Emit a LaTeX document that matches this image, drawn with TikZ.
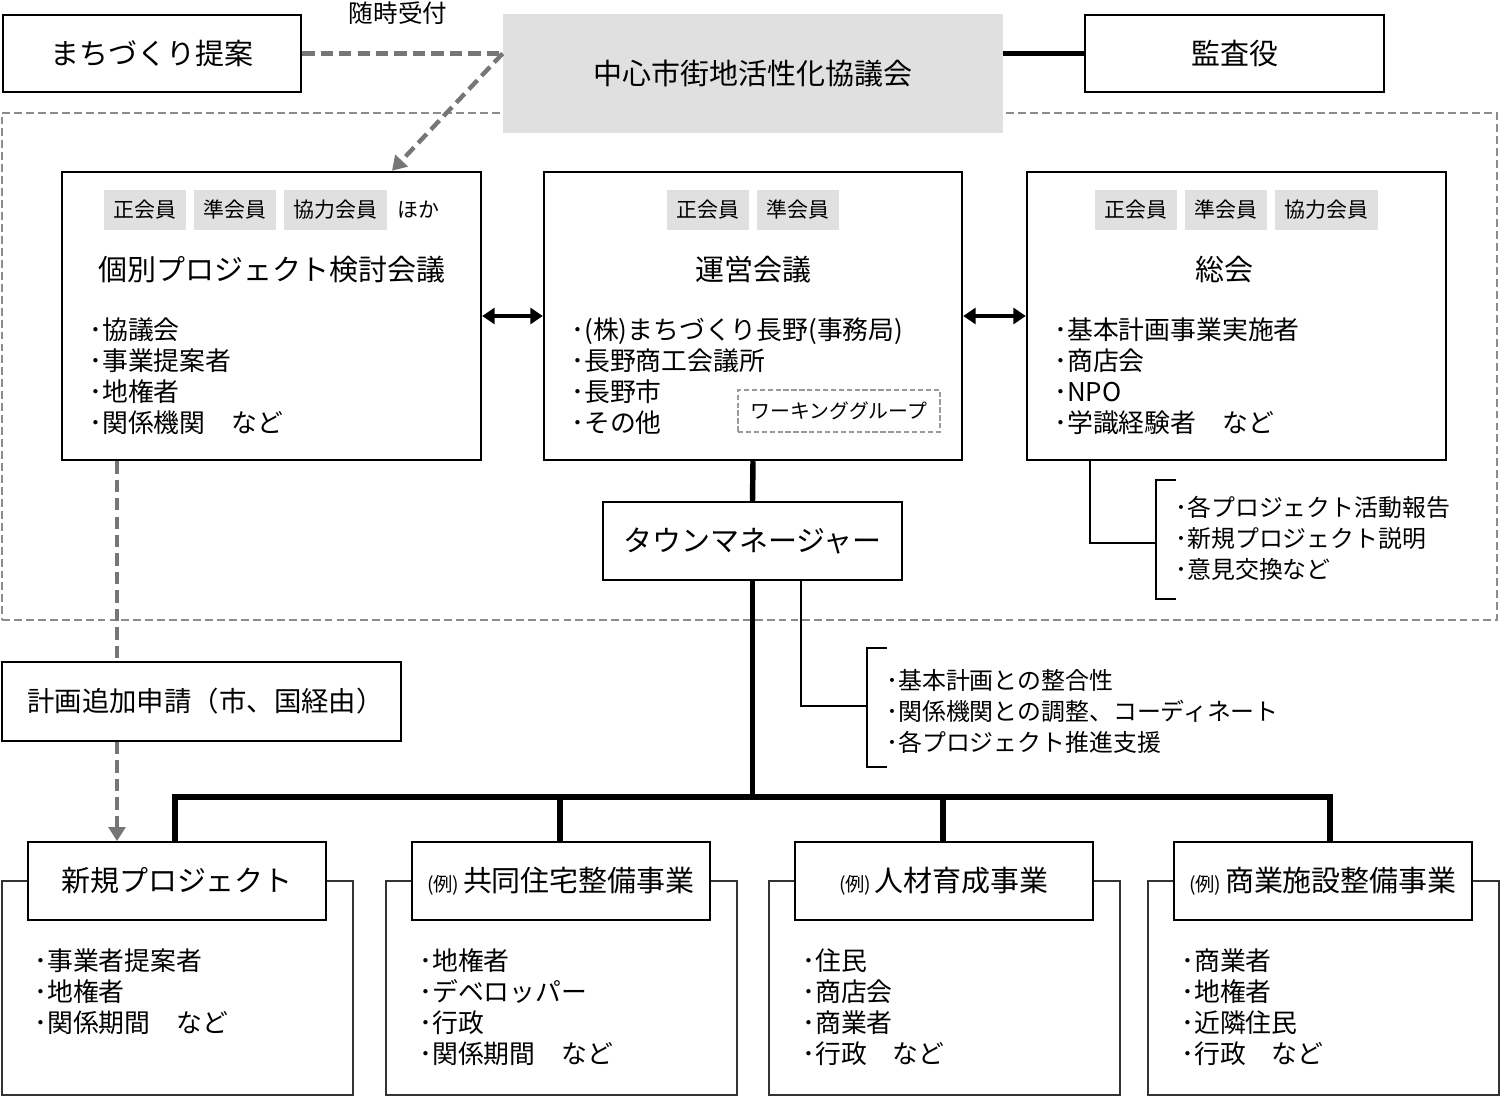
\documentclass[tikz,border=0pt]{standalone}
\usepackage{fontspec}
\setmainfont{Noto Sans CJK JP}
\usetikzlibrary{arrows.meta,fit}
\definecolor{tagfill}{HTML}{E0E0E0}
\definecolor{dgray}{HTML}{767676}
\definecolor{rgray}{HTML}{8C8C8C}
\definecolor{wgray}{HTML}{9A9A9A}
\newcommand{\rei}{{\fontsize{11pt}{12pt}\selectfont(例)}\hspace{2pt}}
\begin{document}
\begin{tikzpicture}[x=0.02cm,y=-0.02cm,
  box/.style={draw=black, line width=1.4pt, fill=white, inner sep=0pt},
  sbox/.style={draw=black, line width=1pt, fill=white, inner sep=0pt},
  obox/.style={draw=black!80, line width=0.6pt, inner sep=0pt},
  tag/.style={fill=tagfill, inner xsep=5.6pt, inner ysep=0pt, minimum height=0.8cm, font=\fontsize{11.9pt}{14pt}\selectfont},
  ttl/.style={font=\fontsize{16.5pt}{20pt}\selectfont, inner sep=0pt},
  lst/.style={anchor=north west, align=left, inner sep=0pt, font=\fontsize{14.7pt}{17.7pt}\selectfont},
  slst/.style={anchor=north west, align=left, inner sep=0pt, font=\fontsize{13.6pt}{17.6pt}\selectfont},
  heavy/.style={line width=3.1pt},
  brk/.style={line width=1.3pt},
  gdash/.style={draw=dgray, line width=2.5pt, dash pattern=on 7pt off 3.5pt},
  garrow/.style={gdash, -{Triangle[length=8pt,width=9.5pt]}},
  dbl/.style={line width=2.8pt, {Triangle[length=7pt,width=9pt]}-{Triangle[length=7pt,width=9pt]}}
]
\useasboundingbox (0,0) rectangle (1500,1097);

% dashed zone
\node[draw=rgray, line width=0.7pt, dash pattern=on 4.5pt off 2.3pt, inner sep=0pt, fit={(2,113) (1497,620)}] (zone) {};

% top row
\node[box, fit={(3,15) (301,92)}] (machi) {};
\node[ttl] (machi-t) at (machi.center) {まちづくり提案};
\node[fill=tagfill, inner sep=0pt, fit={(503,14) (1003,133)}] (council) {};
\node[ttl] (council-t) at (council.center) {中心市街地活性化協議会};
\node[box, fit={(1085,15) (1384,92)}] (kansa) {};
\node[ttl] (kansa-t) at (kansa.center) {監査役};
\node[font=\fontsize{14pt}{16pt}\selectfont, inner sep=0pt] (zuiji) at (398,13) {随時受付};

\draw[line width=2.5pt] (council.east |- kansa.west) -- (kansa.west);

% three councils
\node[box, fit={(62,172) (481,460)}] (kobetsu) {};
\node[box, fit={(544,172) (962,460)}] (unei) {};
\node[box, fit={(1027,172) (1446,460)}] (sokai) {};

\node[tag, minimum width=1.6cm] (k1) at (145,210) {正会員};
\node[tag, minimum width=1.6cm] (k2) at (235,210) {準会員};
\node[tag, minimum width=2.02cm] (k3) at (335.5,210) {協力会員};
\node[font=\fontsize{11.9pt}{14pt}\selectfont, inner sep=0pt] (k4) at (418,210) {ほか};
\node[ttl] (kt) at (272,270) {個別プロジェクト検討会議};
\node[lst] (kl) at (89,317) {･協議会\\･事業提案者\\･地権者\\･関係機関　など};

\node[tag, minimum width=1.6cm] (u1) at (708,210) {正会員};
\node[tag, minimum width=1.6cm] (u2) at (798,210) {準会員};
\node[ttl] (ut) at (753,270) {運営会議};
\node[lst] (ul) at (571,317) {･(株)まちづくり長野(事務局)\\･長野商工会議所\\･長野市\\･その他};
\node[draw=wgray, line width=0.6pt, dash pattern=on 3pt off 1.5pt, inner sep=0pt, fit={(738,390) (940,432)}] (wg) {};
\node[font=\fontsize{11.3pt}{14pt}\selectfont, inner sep=0pt] (wg-t) at (wg.center) {ワーキンググループ};

\node[tag, minimum width=1.6cm] (s1) at (1136,210) {正会員};
\node[tag, minimum width=1.6cm] (s2) at (1226,210) {準会員};
\node[tag, minimum width=2.02cm] (s3) at (1326.5,210) {協力会員};
\node[ttl] (st) at (1224,270) {総会};
\node[lst] (sl) at (1054,317) {･基本計画事業実施者\\･商店会\\･NPO\\･学識経験者　など};

\draw[dbl] (kobetsu.east) -- (unei.west);
\draw[dbl] (unei.east) -- (sokai.west);

% dashed proposal connectors
\coordinate (jc) at (council.west |- machi.east);
\draw[gdash] (machi.east) -- (jc);
\draw[garrow] (jc) -- (kobetsu.north -| 392,0);

% town manager
\node[sbox, fit={(603,502) (902,580)}] (tm) {};
\node[ttl] (tm-t) at (tm.center) {タウンマネージャー};
\draw[heavy] (unei.south) -- (tm.north);

% bracket from sokai
\coordinate (sb) at (sokai.south -| 1090,0);
\coordinate (b2t) at (1156,480);
\coordinate (b2b) at (1156,599);
\coordinate (b2m) at (1156,543);
\draw[brk] (sb) |- (b2m);
\draw[brk] ([xshift=20*0.02cm]b2t) -- (b2t) -- (b2b) -- ([xshift=20*0.02cm]b2b);
\node[slst] (bl2) at (1175,496) {･各プロジェクト活動報告\\･新規プロジェクト説明\\･意見交換など};

% bracket from TM
\coordinate (tb) at (tm.south -| 801,0);
\coordinate (b1t) at (867,648);
\coordinate (b1b) at (867,767);
\coordinate (b1m) at (867,706);
\draw[brk] (tb) |- (b1m);
\draw[brk] ([xshift=20*0.02cm]b1t) -- (b1t) -- (b1b) -- ([xshift=20*0.02cm]b1b);
\node[slst] (bl1) at (886,669) {･基本計画との整合性\\･関係機関との調整、コーディネート\\･各プロジェクト推進支援};

% plan application
\node[sbox, fit={(2,662) (401,741)}] (keikaku) {};
\node[font=\fontsize{15.6pt}{19pt}\selectfont, inner sep=0pt] (keikaku-t) at ([xshift=4*0.02cm]keikaku.center) {計画追加申請（市、国経由）};

% bottom groups
\node[obox, fit={(2,881) (353,1095)}] (g1o) {};
\node[obox, fit={(386,881) (737,1095)}] (g2o) {};
\node[obox, fit={(769,881) (1120,1095)}] (g3o) {};
\node[obox, fit={(1148,881) (1499,1095)}] (g4o) {};
\node[sbox, fit={(28,842) (326,920)}] (g1t) {};
\node[sbox, fit={(412,842) (710,920)}] (g2t) {};
\node[sbox, fit={(795,842) (1093,920)}] (g3t) {};
\node[sbox, fit={(1174,842) (1472,920)}] (g4t) {};
\node[ttl] (g1t-t) at (g1t.center) {新規プロジェクト};
\node[ttl] (g2t-t) at (g2t.center) {\rei 共同住宅整備事業};
\node[ttl] (g3t-t) at (g3t.center) {\rei 人材育成事業};
\node[ttl] (g4t-t) at (g4t.center) {\rei 商業施設整備事業};

\node[lst] (g1l) at (34,948) {･事業者提案者\\･地権者\\･関係期間　など};
\node[lst] (g2l) at (419,948) {･地権者\\･デベロッパー\\･行政\\･関係期間　など};
\node[lst] (g3l) at (802,948) {･住民\\･商店会\\･商業者\\･行政　など};
\node[lst] (g4l) at (1181,948) {･商業者\\･地権者\\･近隣住民\\･行政　など};

% tree
\coordinate (bar1) at (175,797);
\coordinate (bar2) at (560,797);
\coordinate (bar3) at (943,797);
\coordinate (bar4) at (1330,797);
\draw[heavy] (tm.south) -- (tm.south |- bar1);
\draw[heavy] (g1t.north -| bar1) -- (bar1) -- (bar4) -- (g4t.north -| bar4);
\draw[heavy] (bar2) -- (g2t.north -| bar2);
\draw[heavy] (bar3) -- (g3t.north -| bar3);

% dashed path to new project
\draw[gdash] (kobetsu.south -| 117,0) -- (keikaku.north -| 117,0);
\draw[garrow] (keikaku.south -| 117,0) -- (g1t.north -| 117,0);
\end{tikzpicture}
\end{document}
